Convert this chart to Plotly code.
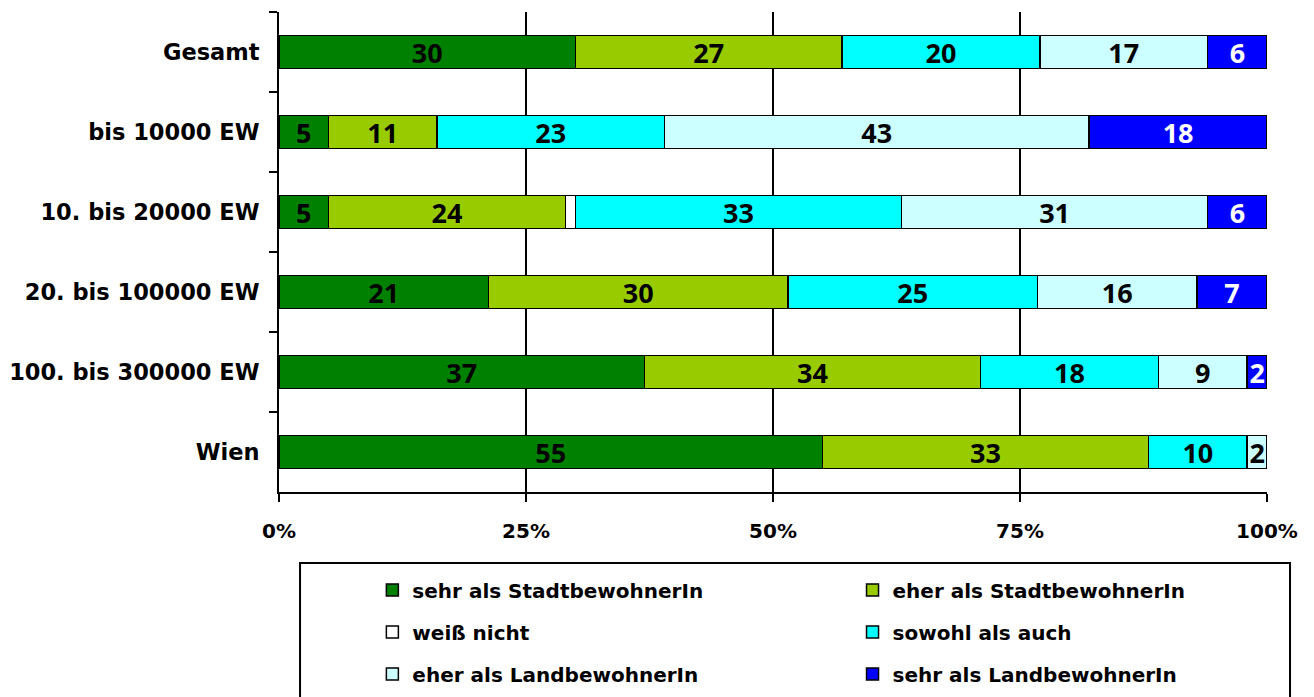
import plotly.graph_objects as go

categories = ["Gesamt", "bis 10000 EW", "10. bis 20000 EW", "20. bis 100000 EW",
              "100. bis 300000 EW", "Wien"]
series_names = ["sehr als StadtbewohnerIn", "eher als StadtbewohnerIn", "weiß nicht",
                "sowohl als auch", "eher als LandbewohnerIn", "sehr als LandbewohnerIn"]
sehr_stadt = [30, 5, 5, 21, 37, 55]
eher_stadt = [27, 11, 24, 30, 34, 33]
weiss_nicht = [0, 0, 1, 0, 0, 0]
sowohl = [20, 23, 33, 25, 18, 10]
eher_land = [17, 43, 31, 16, 9, 2]
sehr_land = [6, 18, 6, 7, 2, 0]
x_ticks = [0, 25, 50, 75, 100]
x_tick_labels = ["0%", "25%", "50%", "75%", "100%"]

values = [sehr_stadt, eher_stadt, weiss_nicht, sowohl, eher_land, sehr_land]
colors = ["#008000", "#99CC00", "#FFFFFF", "#00FFFF", "#CCFFFF", "#0000FF"]
text_colors = ["black", "black", "black", "black", "black", "white"]
show_labels = [True, True, False, True, True, True]

LABEL_FONT = "DejaVu Sans"
VALUE_FONT = "Open Sans"

# legend grid: 2 columns x 3 rows (paper coordinates)
leg_x = [0.0945, 0.5805]
leg_y = [-0.2042, -0.2917, -0.379]
legend_keys = ["legend", "legend2", "legend3", "legend4", "legend5", "legend6"]

fig = go.Figure()
for i, (name, vals, col, tcol, show) in enumerate(zip(series_names, values, colors,
                                                     text_colors, show_labels)):
    fig.add_trace(go.Bar(
        y=categories, x=vals, name=name, orientation="h",
        marker=dict(color=col, line=dict(color="black", width=1.5)),
        text=[str(v) if (show and v > 0) else "" for v in vals],
        textposition="inside", insidetextanchor="middle", textangle=0,
        constraintext="none",
        textfont=dict(family=VALUE_FONT, size=27, color=tcol, weight="bold"),
        legend=legend_keys[i], hoverinfo="skip",
    ))

layout_legends = {}
for i, key in enumerate(legend_keys):
    layout_legends[key] = dict(
        x=leg_x[i % 2], y=leg_y[i // 2], xanchor="left", yanchor="middle",
        orientation="h", bgcolor="rgba(0,0,0,0)", borderwidth=0,
        font=dict(family=LABEL_FONT, size=20, color="black", weight="bold"),
        itemclick=False, itemdoubleclick=False,
    )

fig.update_layout(
    barmode="stack", barnorm="percent", bargap=0.59,
    width=1306, height=689,
    margin=dict(l=271, r=47, t=4, b=205, autoexpand=False),
    plot_bgcolor="white", paper_bgcolor="white",
    font=dict(family=LABEL_FONT, size=20, color="black", weight="bold"),
    xaxis=dict(range=[0, 100], tickvals=x_ticks, ticktext=x_tick_labels,
               showgrid=True, gridcolor="black", gridwidth=2,
               showline=True, linecolor="black", linewidth=2,
               ticks="outside", ticklen=8, tickwidth=2, tickcolor="black",
               zeroline=False, fixedrange=True, ticklabelstandoff=12,
               automargin=False,
               tickfont=dict(family=LABEL_FONT, size=20, weight="bold")),
    yaxis=dict(autorange="reversed", categoryorder="array", categoryarray=categories,
               showline=True, linecolor="black", linewidth=2,
               ticks="outside", ticklen=8, tickwidth=2, tickcolor="black",
               tickson="boundaries", showgrid=False, fixedrange=True,
               ticklabelstandoff=13, automargin=False,
               tickfont=dict(family=LABEL_FONT, size=22.5, weight="bold")),
    showlegend=True,
    **layout_legends,
)
fig.add_shape(type="rect", xref="paper", yref="paper",
              x0=0.0213, x1=1.0233, y0=-0.45, y1=-0.148,
              line=dict(color="black", width=2), fillcolor="rgba(0,0,0,0)", layer="below")

fig.write_html("out.html")
